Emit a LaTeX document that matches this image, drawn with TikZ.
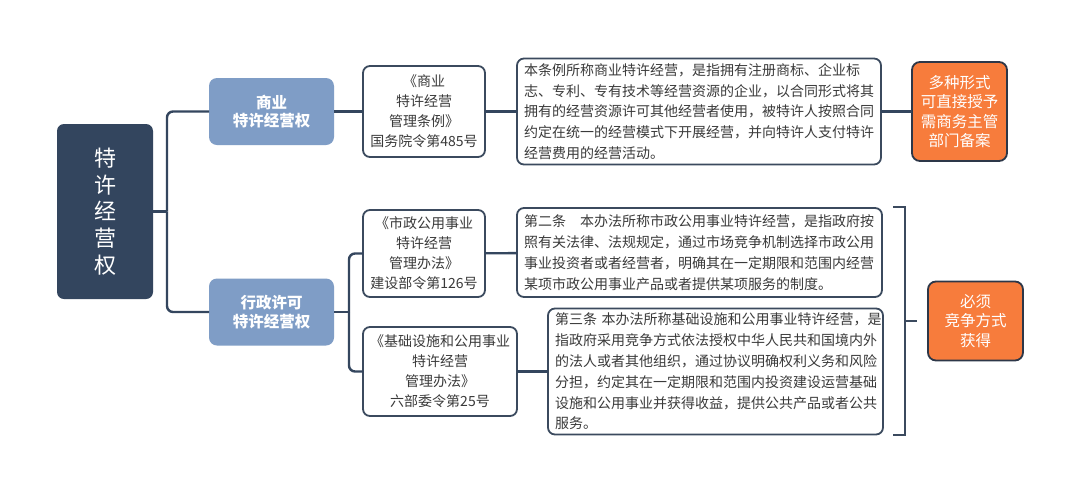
\documentclass[tikz,border=0pt]{standalone}
\usepackage{fontspec}
\setmainfont{Noto Sans CJK SC}
\usetikzlibrary{positioning}
\definecolor{rootNavy}{HTML}{33455E}
\definecolor{lvlBlue}{HTML}{7F9DC6}
\definecolor{linkNavy}{HTML}{34465E}
\definecolor{boxEdge}{HTML}{3B4A5E}
\definecolor{txtGrey}{HTML}{3A3A3A}
\definecolor{modeOrange}{HTML}{F77C3C}
\definecolor{modeEdge}{HTML}{2D3748}

\begin{document}
\begin{tikzpicture}[
x=1pt, y=-1pt,
every node/.style={inner sep=0pt, outer sep=0pt},
rootbox/.style={fill=rootNavy, rounded corners=7pt, minimum width=96pt, minimum height=175pt, align=center, text=white, font=\fontsize{22}{26.7}\selectfont},
lvl/.style={fill=lvlBlue, rounded corners=8pt, minimum width=125pt, minimum height=67pt, align=center, text=white, font=\fontsize{15.5}{18.5}\selectfont\bfseries},
law/.style={draw=boxEdge, line width=1.8pt, fill=white, rounded corners=7pt, minimum width=122pt, align=center, text=txtGrey, font=\fontsize{14}{20}\selectfont},
defn/.style={draw=boxEdge, line width=1.8pt, fill=white, rounded corners=7pt, inner xsep=7pt, align=left, text=txtGrey, font=\fontsize{14}{20.8}\selectfont},
mode/.style={draw=modeEdge, line width=1.8pt, fill=modeOrange, rounded corners=8pt, minimum width=95pt, align=center, text=white, font=\fontsize{15.5}{19.5}\selectfont},
link/.style={draw=linkNavy, line width=2.4pt, rounded corners=6pt},
brace/.style={draw=boxEdge, line width=2pt}
]
\fill[white] (0,0) rectangle (1080,491);
\useasboundingbox (0,0) rectangle (1080,491);

% root and the two kinds
\node[rootbox] (root) at (105,211.5) {特\\许\\经\\营\\权};
\node[lvl, right=56pt of root, yshift=100pt] (biz) {商业\\特许经营权};
\node[lvl, right=56pt of root, yshift=-100.5pt] (adm) {行政许可\\特许经营权};
\draw[link] (root.east) -- ++(14pt,0) coordinate (j0);
\draw[link] (j0) |- (biz.west); \draw[link] (j0) |- (adm.west);

% commercial branch
\node[law, right=29pt of biz, minimum height=91pt] (law1) {《商业\\特许经营\\管理条例》\\国务院令第485号};
\node[defn, right=32pt of law1, text width=350pt, minimum height=106pt] (def1) {本条例所称商业特许经营，是指拥有注册商标、企业标\\志、专利、专有技术等经营资源的企业，以合同形式将其\\拥有的经营资源许可其他经营者使用，被特许人按照合同\\约定在统一的经营模式下开展经营，并向特许人支付特许\\经营费用的经营活动。};
\node[mode, right=31pt of def1, minimum height=99pt] (mode1) {多种形式\\可直接授予\\需商务主管\\部门备案};
\draw[link] (biz) -- (law1); \draw[link] (law1) -- (def1); \draw[link] (def1) -- (mode1);

% administrative branch
\node[law, right=29pt of adm, yshift=58.5pt, minimum height=87pt] (law2) {《市政公用事业\\特许经营\\管理办法》\\建设部令第126号};
\node[defn, right=32pt of law2, yshift=1pt, text width=351pt, minimum height=89pt] (def2) {第二条　本办法所称市政公用事业特许经营，是指政府按\\照有关法律、法规规定，通过市场竞争机制选择市政公用\\事业投资者或者经营者，明确其在一定期限和范围内经营\\某项市政公用事业产品或者提供某项服务的制度。};
\node[law, right=29pt of adm, yshift=-59.5pt, minimum width=154pt, minimum height=89pt] (law3) {《基础设施和公用事业\\特许经营\\管理办法》\\六部委令第25号};
\node[defn, right=31pt of law3, text width=321pt, minimum height=126pt] (def3) {第三条 本办法所称基础设施和公用事业特许经营，是\\指政府采用竞争方式依法授权中华人民共和国境内外\\的法人或者其他组织，通过协议明确权利义务和风险\\分担，约定其在一定期限和范围内投资建设运营基础\\设施和公用事业并获得收益，提供公共产品或者公共\\服务。};
\draw[link] (adm.east) -- ++(15pt,0) coordinate (j1);
\draw[link] (j1) |- (law2.west); \draw[link] (j1) |- (law3.west);
\draw[link] (law2) -- (def2); \draw[link] (law3) -- (def3);

% bracket to the second mode
\coordinate (brT) at (905,207);
\coordinate (brB) at (905,435);
\coordinate (brM) at (905,321);
\draw[brace] ([xshift=-12pt]brT) -- (brT) -- (brB) -- ([xshift=-12pt]brB);
\node[mode, right=23pt of brM, minimum height=79pt] (mode2) {必须\\竞争方式\\获得};
\draw[brace, shorten >=11pt] (brM) -- (mode2);
\end{tikzpicture}
\end{document}
